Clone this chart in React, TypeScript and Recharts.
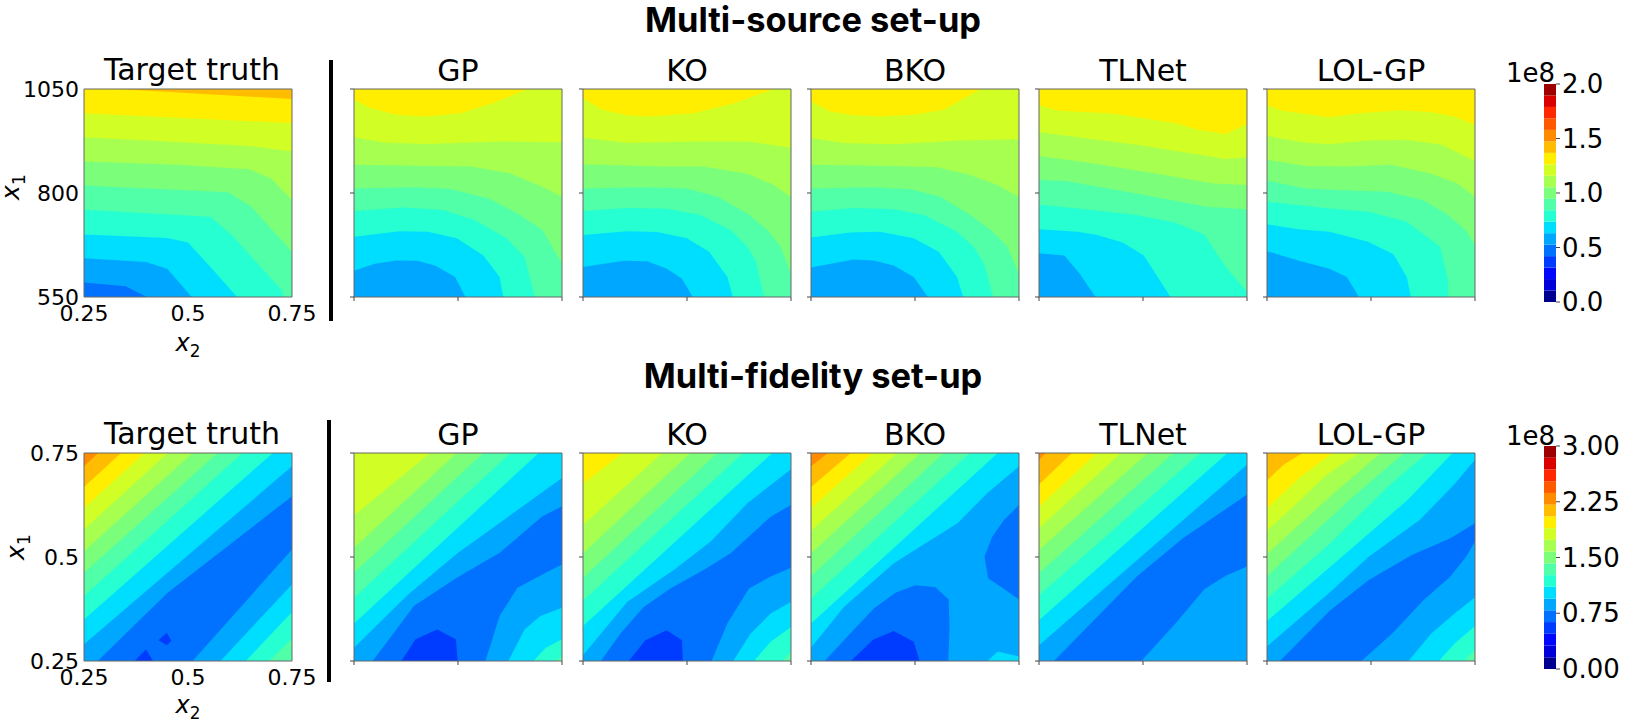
// Contour panels: every filled band is an Area painted over the previous one
import React from 'react'
import { AreaChart, Area, XAxis, YAxis, ReferenceArea, BarChart, Bar } from 'recharts'

type Contour = [number, number[][]]

// colours of the 19 contourf levels
const JET = [
  '#000090', '#0000db', '#0007ff', '#003cff', '#0072ff', '#00a7ff', '#00deff', '#25ffd1', '#50ffa7', '#7bff7b',
  '#a7ff50', '#d1ff25', '#ffee00', '#ffbc00', '#ff8b00', '#ff5900', '#ff2800', '#db0000', '#9e0000',
]

const methods = ['GP', 'KO', 'BKO', 'TLNet', 'LOL-GP']

// each contour: [band index, line [x2, x1, optional lower x1]], region under the line takes the band colour
const msTarget: Contour[] = [
  [13, [[0.25, 1050], [0.75, 1050]]],
  [12, [[0.25, 1050], [0.33, 1050], [0.75, 1026]]],
  [11, [[0.25, 992], [0.476, 981], [0.75, 968]]],
  [10, [[0.25, 934], [0.45, 924], [0.648, 913], [0.75, 900]]],
  [9, [[0.25, 876], [0.476, 868], [0.648, 857], [0.7, 835], [0.75, 783]]],
  [8, [[0.25, 818], [0.596, 802], [0.652, 767], [0.75, 658]]],
  [7, [[0.25, 760], [0.554, 743], [0.605, 699], [0.725, 566], [0.73, 550]]],
  [6, [[0.25, 700], [0.45, 692], [0.5, 681], [0.554, 622], [0.618, 550]]],
  [5, [[0.25, 643], [0.399, 634], [0.45, 618], [0.509, 550]]],
  [4, [[0.25, 585], [0.35, 576], [0.401, 550]]],
]
const msGp: Contour[] = [
  [12, [[0.25, 1050], [0.75, 1050]]],
  [11, [[0.25, 1024], [0.291, 1004], [0.351, 988], [0.42, 984], [0.506, 992], [0.583, 1016], [0.668, 1050], [0.75, 1050]]],
  [10, [[0.25, 934], [0.325, 921], [0.428, 918], [0.6, 924], [0.75, 922]]],
  [9, [[0.25, 868], [0.428, 865], [0.531, 864], [0.626, 847], [0.703, 815], [0.75, 791]]],
  [8, [[0.25, 811], [0.385, 814], [0.48, 810], [0.574, 787], [0.643, 751], [0.703, 711], [0.75, 630]]],
  [7, [[0.25, 757], [0.368, 765], [0.463, 759], [0.54, 735], [0.617, 691], [0.66, 646], [0.684, 550]]],
  [6, [[0.25, 695], [0.36, 708], [0.428, 707], [0.497, 691], [0.561, 650], [0.6, 598], [0.609, 550]]],
  [5, [[0.25, 613], [0.3, 630], [0.351, 638], [0.403, 637], [0.446, 625], [0.493, 598], [0.518, 550]]],
]
const msKo: Contour[] = [
  [12, [[0.25, 1050], [0.75, 1050]]],
  [11, [[0.25, 1028], [0.296, 1000], [0.356, 987], [0.412, 984], [0.516, 992], [0.613, 1016], [0.709, 1050], [0.75, 1050]]],
  [10, [[0.25, 933], [0.356, 920], [0.516, 924], [0.645, 924], [0.75, 909]]],
  [9, [[0.25, 869], [0.436, 864], [0.54, 864], [0.645, 846], [0.709, 819], [0.75, 790]]],
  [8, [[0.25, 811], [0.396, 814], [0.5, 811], [0.573, 791], [0.645, 751], [0.693, 711], [0.725, 671], [0.75, 606]]],
  [7, [[0.25, 757], [0.356, 764], [0.452, 762], [0.532, 747], [0.605, 711], [0.645, 671], [0.665, 638], [0.685, 550]]],
  [6, [[0.25, 699], [0.356, 708], [0.428, 706], [0.5, 691], [0.553, 659], [0.597, 598], [0.61, 550]]],
  [5, [[0.25, 622], [0.348, 637], [0.404, 636], [0.452, 618], [0.488, 594], [0.514, 550]]],
]
const msBko: Contour[] = [
  [12, [[0.25, 1050], [0.75, 1050]]],
  [11, [[0.25, 1020], [0.296, 996], [0.352, 987], [0.416, 984], [0.497, 988], [0.569, 1000], [0.658, 1050], [0.75, 1050]]],
  [10, [[0.25, 932], [0.328, 920], [0.449, 917], [0.609, 926], [0.75, 929]]],
  [9, [[0.25, 868], [0.449, 865], [0.553, 862], [0.633, 843], [0.698, 819], [0.75, 791]]],
  [8, [[0.25, 811], [0.392, 814], [0.489, 809], [0.561, 791], [0.633, 747], [0.682, 711], [0.722, 671], [0.75, 606]]],
  [7, [[0.25, 755], [0.352, 764], [0.449, 761], [0.521, 747], [0.601, 707], [0.641, 671], [0.666, 630], [0.688, 550]]],
  [6, [[0.25, 693], [0.344, 705], [0.416, 707], [0.497, 691], [0.557, 659], [0.601, 598], [0.616, 550]]],
  [5, [[0.25, 621], [0.352, 640], [0.4, 638], [0.449, 626], [0.497, 598], [0.531, 550]]],
]
const msTlnet: Contour[] = [
  [12, [[0.25, 1050], [0.75, 1050]]],
  [11, [[0.25, 1011], [0.297, 998], [0.428, 991], [0.577, 968], [0.633, 952], [0.699, 942], [0.75, 966]]],
  [10, [[0.25, 946], [0.343, 934], [0.484, 916], [0.624, 894], [0.699, 882], [0.75, 886]]],
  [9, [[0.25, 889], [0.39, 870], [0.53, 847], [0.67, 823], [0.75, 819]]],
  [8, [[0.25, 831], [0.315, 829], [0.484, 799], [0.652, 767], [0.75, 761]]],
  [7, [[0.25, 772], [0.343, 763], [0.484, 747], [0.577, 729], [0.647, 700], [0.699, 622], [0.75, 562]]],
  [6, [[0.25, 713], [0.343, 707], [0.39, 699], [0.451, 681], [0.502, 650], [0.566, 550]]],
  [5, [[0.25, 655], [0.311, 650], [0.348, 606], [0.386, 550]]],
]
const msLol: Contour[] = [
  [12, [[0.25, 1050], [0.75, 1050]]],
  [11, [[0.25, 1011], [0.287, 998], [0.4, 982], [0.474, 992], [0.568, 999], [0.643, 995], [0.699, 984], [0.75, 964]]],
  [10, [[0.25, 937], [0.343, 921], [0.4, 917], [0.493, 926], [0.586, 928], [0.67, 916], [0.75, 877]]],
  [9, [[0.25, 880], [0.343, 865], [0.446, 864], [0.549, 868], [0.643, 847], [0.708, 823], [0.75, 791]]],
  [8, [[0.25, 830], [0.343, 811], [0.446, 806], [0.54, 803], [0.624, 783], [0.68, 751], [0.727, 711], [0.75, 675]]],
  [7, [[0.25, 779], [0.306, 773], [0.4, 763], [0.493, 755], [0.586, 731], [0.666, 671], [0.685, 590], [0.686, 550]]],
  [6, [[0.25, 725], [0.325, 713], [0.4, 707], [0.493, 683], [0.554, 653], [0.586, 598], [0.596, 550]]],
  [5, [[0.25, 660], [0.325, 638], [0.4, 618], [0.442, 598], [0.471, 550]]],
]

const mfTarget: Contour[] = [
  [14, [[0.25, 0.75], [0.75, 0.75]]],
  [13, [[0.25, 0.718], [0.284, 0.75], [0.75, 0.75]]],
  [12, [[0.25, 0.668], [0.339, 0.75], [0.75, 0.75]]],
  [11, [[0.25, 0.618], [0.395, 0.75], [0.75, 0.75]]],
  [10, [[0.25, 0.566], [0.451, 0.75], [0.75, 0.75]]],
  [9, [[0.25, 0.514], [0.511, 0.75], [0.75, 0.75]]],
  [8, [[0.25, 0.462], [0.571, 0.75], [0.75, 0.75]]],
  [7, [[0.25, 0.406], [0.631, 0.75], [0.75, 0.75]]],
  [6, [[0.25, 0.35], [0.704, 0.75], [0.75, 0.75]]],
  [5, [[0.25, 0.29], [0.5, 0.504], [0.75, 0.718]]],
  [4, [[0.283, 0.25], [0.451, 0.414], [0.75, 0.646]]],
  [5, [[0.511, 0.25], [0.75, 0.518]]],
  [6, [[0.578, 0.25], [0.75, 0.434]]],
  [7, [[0.639, 0.25], [0.75, 0.368]]],
  [8, [[0.695, 0.25], [0.75, 0.304]]],
  [3, [[0.372, 0.25], [0.399, 0.278], [0.416, 0.25]]],
  [3, [[0.429, 0.3, 0.3], [0.449, 0.318, 0.288], [0.46, 0.298, 0.298]]],
]
const mfGp: Contour[] = [
  [11, [[0.25, 0.75], [0.75, 0.75]]],
  [10, [[0.25, 0.6], [0.433, 0.75], [0.75, 0.75]]],
  [9, [[0.25, 0.522], [0.497, 0.75], [0.75, 0.75]]],
  [8, [[0.25, 0.462], [0.561, 0.75], [0.75, 0.75]]],
  [7, [[0.25, 0.402], [0.626, 0.75], [0.75, 0.75]]],
  [6, [[0.25, 0.34], [0.694, 0.75], [0.75, 0.75]]],
  [5, [[0.25, 0.282], [0.38, 0.41], [0.5, 0.51], [0.75, 0.69]]],
  [4, [[0.295, 0.25], [0.394, 0.382], [0.497, 0.45], [0.6, 0.51], [0.703, 0.598], [0.75, 0.622]]],
  [5, [[0.566, 0.25], [0.6, 0.358], [0.643, 0.426], [0.711, 0.462], [0.75, 0.482]]],
  [6, [[0.621, 0.25], [0.66, 0.326], [0.698, 0.358], [0.75, 0.378]]],
  [7, [[0.681, 0.25], [0.711, 0.282], [0.75, 0.302]]],
  [8, [[0.733, 0.25], [0.75, 0.262]]],
  [3, [[0.364, 0.25], [0.398, 0.302], [0.45, 0.326], [0.495, 0.302], [0.499, 0.25]]],
]
const mfKo: Contour[] = [
  [12, [[0.25, 0.75], [0.75, 0.75]]],
  [11, [[0.25, 0.676], [0.346, 0.75], [0.75, 0.75]]],
  [10, [[0.25, 0.577], [0.44, 0.75], [0.75, 0.75]]],
  [9, [[0.25, 0.509], [0.508, 0.75], [0.75, 0.75]]],
  [8, [[0.25, 0.45], [0.573, 0.75], [0.75, 0.75]]],
  [7, [[0.25, 0.395], [0.635, 0.75], [0.75, 0.75]]],
  [6, [[0.25, 0.334], [0.705, 0.75], [0.75, 0.75]]],
  [5, [[0.25, 0.264], [0.356, 0.392], [0.468, 0.469], [0.557, 0.537], [0.645, 0.629], [0.75, 0.711]]],
  [4, [[0.293, 0.25], [0.34, 0.316], [0.396, 0.38], [0.46, 0.424], [0.54, 0.469], [0.605, 0.509], [0.701, 0.597], [0.75, 0.625]]],
  [5, [[0.559, 0.25], [0.597, 0.34], [0.649, 0.424], [0.701, 0.453], [0.75, 0.474]]],
  [6, [[0.611, 0.25], [0.653, 0.316], [0.701, 0.364], [0.75, 0.392]]],
  [7, [[0.661, 0.25], [0.701, 0.296], [0.75, 0.332]]],
  [8, [[0.729, 0.25], [0.75, 0.272]]],
  [3, [[0.36, 0.25], [0.4, 0.3], [0.451, 0.324], [0.488, 0.3], [0.49, 0.25]]],
]
const mfBko: Contour[] = [
  [14, [[0.25, 0.75], [0.75, 0.75]]],
  [13, [[0.25, 0.718], [0.291, 0.75], [0.75, 0.75]]],
  [12, [[0.25, 0.668], [0.346, 0.75], [0.75, 0.75]]],
  [11, [[0.25, 0.617], [0.398, 0.75], [0.75, 0.75]]],
  [10, [[0.25, 0.563], [0.457, 0.75], [0.75, 0.75]]],
  [9, [[0.25, 0.509], [0.513, 0.75], [0.75, 0.75]]],
  [8, [[0.25, 0.454], [0.569, 0.75], [0.75, 0.75]]],
  [7, [[0.25, 0.4], [0.632, 0.75], [0.75, 0.75]]],
  [6, [[0.25, 0.34], [0.699, 0.75], [0.75, 0.75]]],
  [5, [[0.25, 0.282], [0.329, 0.38], [0.449, 0.485], [0.602, 0.581], [0.674, 0.654], [0.75, 0.718]]],
  [4, [[0.283, 0.25], [0.337, 0.308], [0.401, 0.376], [0.453, 0.414], [0.501, 0.432], [0.549, 0.427], [0.581, 0.398], [0.583, 0.332], [0.58, 0.25]]],
  [4, [[0.667, 0.501, 0.501], [0.676, 0.524, 0.449], [0.686, 0.549, 0.442], [0.714, 0.589, 0.423], [0.75, 0.625, 0.398]]],
  [6, [[0.674, 0.25], [0.699, 0.273], [0.75, 0.261]]],
  [3, [[0.346, 0.25], [0.399, 0.301], [0.449, 0.322], [0.497, 0.296], [0.511, 0.25]]],
]
const mfTlnet: Contour[] = [
  [14, [[0.25, 0.75], [0.75, 0.75]]],
  [13, [[0.25, 0.734], [0.266, 0.75], [0.75, 0.75]]],
  [12, [[0.25, 0.674], [0.329, 0.75], [0.75, 0.75]]],
  [11, [[0.25, 0.621], [0.389, 0.75], [0.75, 0.75]]],
  [10, [[0.25, 0.569], [0.447, 0.75], [0.75, 0.75]]],
  [9, [[0.25, 0.517], [0.511, 0.75], [0.75, 0.75]]],
  [8, [[0.25, 0.461], [0.573, 0.75], [0.75, 0.75]]],
  [7, [[0.25, 0.408], [0.638, 0.75], [0.75, 0.75]]],
  [6, [[0.25, 0.348], [0.703, 0.75], [0.75, 0.75]]],
  [5, [[0.25, 0.288], [0.75, 0.722]]],
  [4, [[0.286, 0.25], [0.485, 0.453], [0.596, 0.545], [0.75, 0.65]]],
  [5, [[0.496, 0.25], [0.578, 0.34], [0.648, 0.423], [0.699, 0.455], [0.75, 0.477]]],
]
const mfLol: Contour[] = [
  [13, [[0.25, 0.75], [0.75, 0.75]]],
  [12, [[0.25, 0.684], [0.29, 0.722], [0.335, 0.75], [0.75, 0.75]]],
  [11, [[0.25, 0.617], [0.327, 0.69], [0.407, 0.75], [0.75, 0.75]]],
  [10, [[0.25, 0.564], [0.309, 0.617], [0.393, 0.698], [0.472, 0.75], [0.75, 0.75]]],
  [9, [[0.25, 0.507], [0.402, 0.646], [0.523, 0.75], [0.75, 0.75]]],
  [8, [[0.25, 0.454], [0.449, 0.638], [0.579, 0.75], [0.75, 0.75]]],
  [7, [[0.25, 0.4], [0.402, 0.533], [0.542, 0.67], [0.635, 0.75], [0.75, 0.75]]],
  [6, [[0.25, 0.346], [0.449, 0.517], [0.589, 0.638], [0.696, 0.75], [0.75, 0.75]]],
  [5, [[0.25, 0.285], [0.402, 0.416], [0.495, 0.501], [0.617, 0.589], [0.7, 0.674], [0.75, 0.734]]],
  [4, [[0.281, 0.25], [0.402, 0.372], [0.495, 0.445], [0.598, 0.505], [0.691, 0.545], [0.75, 0.581]]],
  [5, [[0.477, 0.25], [0.551, 0.316], [0.626, 0.396], [0.691, 0.453], [0.729, 0.501], [0.75, 0.537]]],
  [6, [[0.59, 0.25], [0.645, 0.316], [0.701, 0.364], [0.75, 0.403]]],
  [7, [[0.663, 0.25], [0.701, 0.292], [0.75, 0.334]]],
  [8, [[0.722, 0.25], [0.75, 0.276]]],
]

const x2Ticks = [0.25, 0.5, 0.75]
const msX1Ticks = [550, 800, 1050]
const mfX1Ticks = [0.25, 0.5, 0.75]
const msBarTicks = [0, 0.5, 1, 1.5, 2]
const mfBarTicks = [0, 0.75, 1.5, 2.25, 3]
const msBarStep = [0.10526]
const mfBarStep = [0.15789]

const FONT = '"DejaVu Sans", sans-serif'
const Y_W = 70
const X_H = 40
const SIZE = 208
const PAD = 18

function Panel({ left, top, contours, yTicks, labelled }: { left: number; top: number; contours: Contour[]; yTicks: number[]; labelled: boolean }) {
  const yMin = yTicks[0]
  const yMax = yTicks[2]
  const fmt = (v: number) => (labelled ? String(v) : '')
  return (
    <div style={{ position: 'absolute', left: left - Y_W, top: top - PAD }}>
      <AreaChart width={Y_W + SIZE + 30} height={PAD + SIZE + X_H} margin={{ top: PAD, right: 30, bottom: 0, left: 0 }}>
        <XAxis
          dataKey="x2"
          type="number"
          domain={[0.25, 0.75]}
          ticks={x2Ticks}
          height={X_H}
          interval={0}
          allowDataOverflow
          tick={{ fontSize: 22, fill: '#000', fontFamily: FONT }}
          tickLine={labelled ? false : { stroke: '#444' }}
          tickSize={labelled ? 3 : 4}
          tickMargin={labelled ? 5 : 2}
          axisLine={false}
          tickFormatter={fmt}
        />
        <YAxis
          type="number"
          domain={[yMin, yMax]}
          ticks={yTicks}
          width={Y_W}
          interval={0}
          allowDataOverflow
          tick={{ fontSize: 22, fill: '#000', fontFamily: FONT }}
          tickLine={labelled ? false : { stroke: '#444' }}
          tickSize={labelled ? 3 : 4}
          axisLine={false}
          tickFormatter={fmt}
        />
        {contours.map(([band, line], i) => (
          <Area
            key={i}
            data={line.map((p) => ({ x2: p[0], x1: [p.length > 2 ? p[2] : yMin, p[1]] }))}
            dataKey="x1"
            type="linear"
            fill={JET[band]}
            fillOpacity={1}
            stroke="none"
            dot={false}
            activeDot={false}
            isAnimationActive={false}
          />
        ))}
        <ReferenceArea x1={0.25} x2={0.75} y1={yMin} y2={yMax} fill="none" stroke="#666" strokeWidth={1} ifOverflow="visible" />
      </AreaChart>
    </div>
  )
}

function ColorBar({ left, top, height, step, ticks, digits }: { left: number; top: number; height: number; step: number; ticks: number[]; digits: number }) {
  const row: Record<string, string | number> = { name: 'levels' }
  JET.forEach((_, i) => { row[`b${i}`] = step })
  return (
    <div style={{ position: 'absolute', left, top: top - PAD }}>
      <BarChart width={90} height={height + 2 * PAD} data={[row]} barCategoryGap={0} margin={{ top: PAD, right: 0, bottom: PAD, left: 0 }}>
        <XAxis dataKey="name" hide />
        <YAxis
          orientation="right"
          type="number"
          domain={[ticks[0], ticks[4]]}
          ticks={ticks}
          width={78}
          interval={0}
          allowDataOverflow
          tick={{ fontSize: 26, fill: '#000', fontFamily: FONT }}
          tickLine={{ stroke: '#444' }}
          tickSize={4}
          axisLine={false}
          tickFormatter={(v: number) => v.toFixed(digits)}
        />
        {JET.map((c, i) => (
          <Bar key={c} dataKey={`b${i}`} stackId="levels" fill={c} isAnimationActive={false} />
        ))}
      </BarChart>
    </div>
  )
}

function Label({ x, y, size, weight, family, children, anchor = 'center' }: any) {
  const shift = anchor === 'center' ? 'translate(-50%, -50%)' : 'translate(-100%, -50%)'
  return (
    <div style={{ position: 'absolute', left: x, top: y, transform: shift, fontSize: size, fontWeight: weight, fontFamily: family || FONT, whiteSpace: 'nowrap', lineHeight: 1, color: '#000' }}>
      {children}
    </div>
  )
}

const Sym = ({ n }: { n: number }) => (
  <span style={{ fontStyle: 'italic' }}>
    x<sub style={{ fontStyle: 'normal', fontSize: '0.7em', lineHeight: 0 }}>{n}</sub>
  </span>
)

export default function App() {
  const msPanels = [msGp, msKo, msBko, msTlnet, msLol]
  const mfPanels = [mfGp, mfKo, mfBko, mfTlnet, mfLol]
  const xs = [354, 583, 811, 1039, 1267]
  return (
    <div style={{ position: 'absolute', left: 0, top: 0, width: 1627, height: 722, background: '#fff', overflow: 'hidden' }}>
      {/* Multi-source row */}
      <Label x={813} y={20} size={34.4} weight={700} family="Inter">Multi-source set-up</Label>
      <Label x={192} y={70} size={30}>Target truth</Label>
      <Panel left={84} top={89} contours={msTarget} yTicks={msX1Ticks} labelled />
      <Label x={188} y={343} size={24}><Sym n={2} /></Label>
      <div style={{ position: 'absolute', left: 10, top: 187, transform: 'translate(-50%, -50%) rotate(-90deg)', fontSize: 25, lineHeight: 1, fontFamily: FONT }}><Sym n={1} /></div>
      <div style={{ position: 'absolute', left: 329, top: 60, width: 4, height: 261, background: '#000' }} />
      {methods.map((m, i) => (
        <React.Fragment key={m}>
          <Label x={xs[i] + 104} y={71} size={30}>{m}</Label>
          <Panel left={xs[i]} top={89} contours={msPanels[i]} yTicks={msX1Ticks} labelled={false} />
        </React.Fragment>
      ))}
      <Label x={1555} y={73} size={26} anchor="right">1e8</Label>
      <ColorBar left={1544} top={84} height={218} step={msBarStep[0]} ticks={msBarTicks} digits={1} />

      {/* Multi-fidelity row */}
      <Label x={813} y={376} size={34.4} weight={700} family="Inter">Multi-fidelity set-up</Label>
      <Label x={192} y={434} size={30}>Target truth</Label>
      <Panel left={84} top={453} contours={mfTarget} yTicks={mfX1Ticks} labelled />
      <Label x={188} y={705} size={24}><Sym n={2} /></Label>
      <div style={{ position: 'absolute', left: 15, top: 547, transform: 'translate(-50%, -50%) rotate(-90deg)', fontSize: 25, lineHeight: 1, fontFamily: FONT }}><Sym n={1} /></div>
      <div style={{ position: 'absolute', left: 327, top: 420, width: 4, height: 262, background: '#000' }} />
      {methods.map((m, i) => (
        <React.Fragment key={m}>
          <Label x={xs[i] + 104} y={435} size={30}>{m}</Label>
          <Panel left={xs[i]} top={453} contours={mfPanels[i]} yTicks={mfX1Ticks} labelled={false} />
        </React.Fragment>
      ))}
      <Label x={1555} y={436} size={26} anchor="right">1e8</Label>
      <ColorBar left={1544} top={446} height={223} step={mfBarStep[0]} ticks={mfBarTicks} digits={2} />
    </div>
  )
}
